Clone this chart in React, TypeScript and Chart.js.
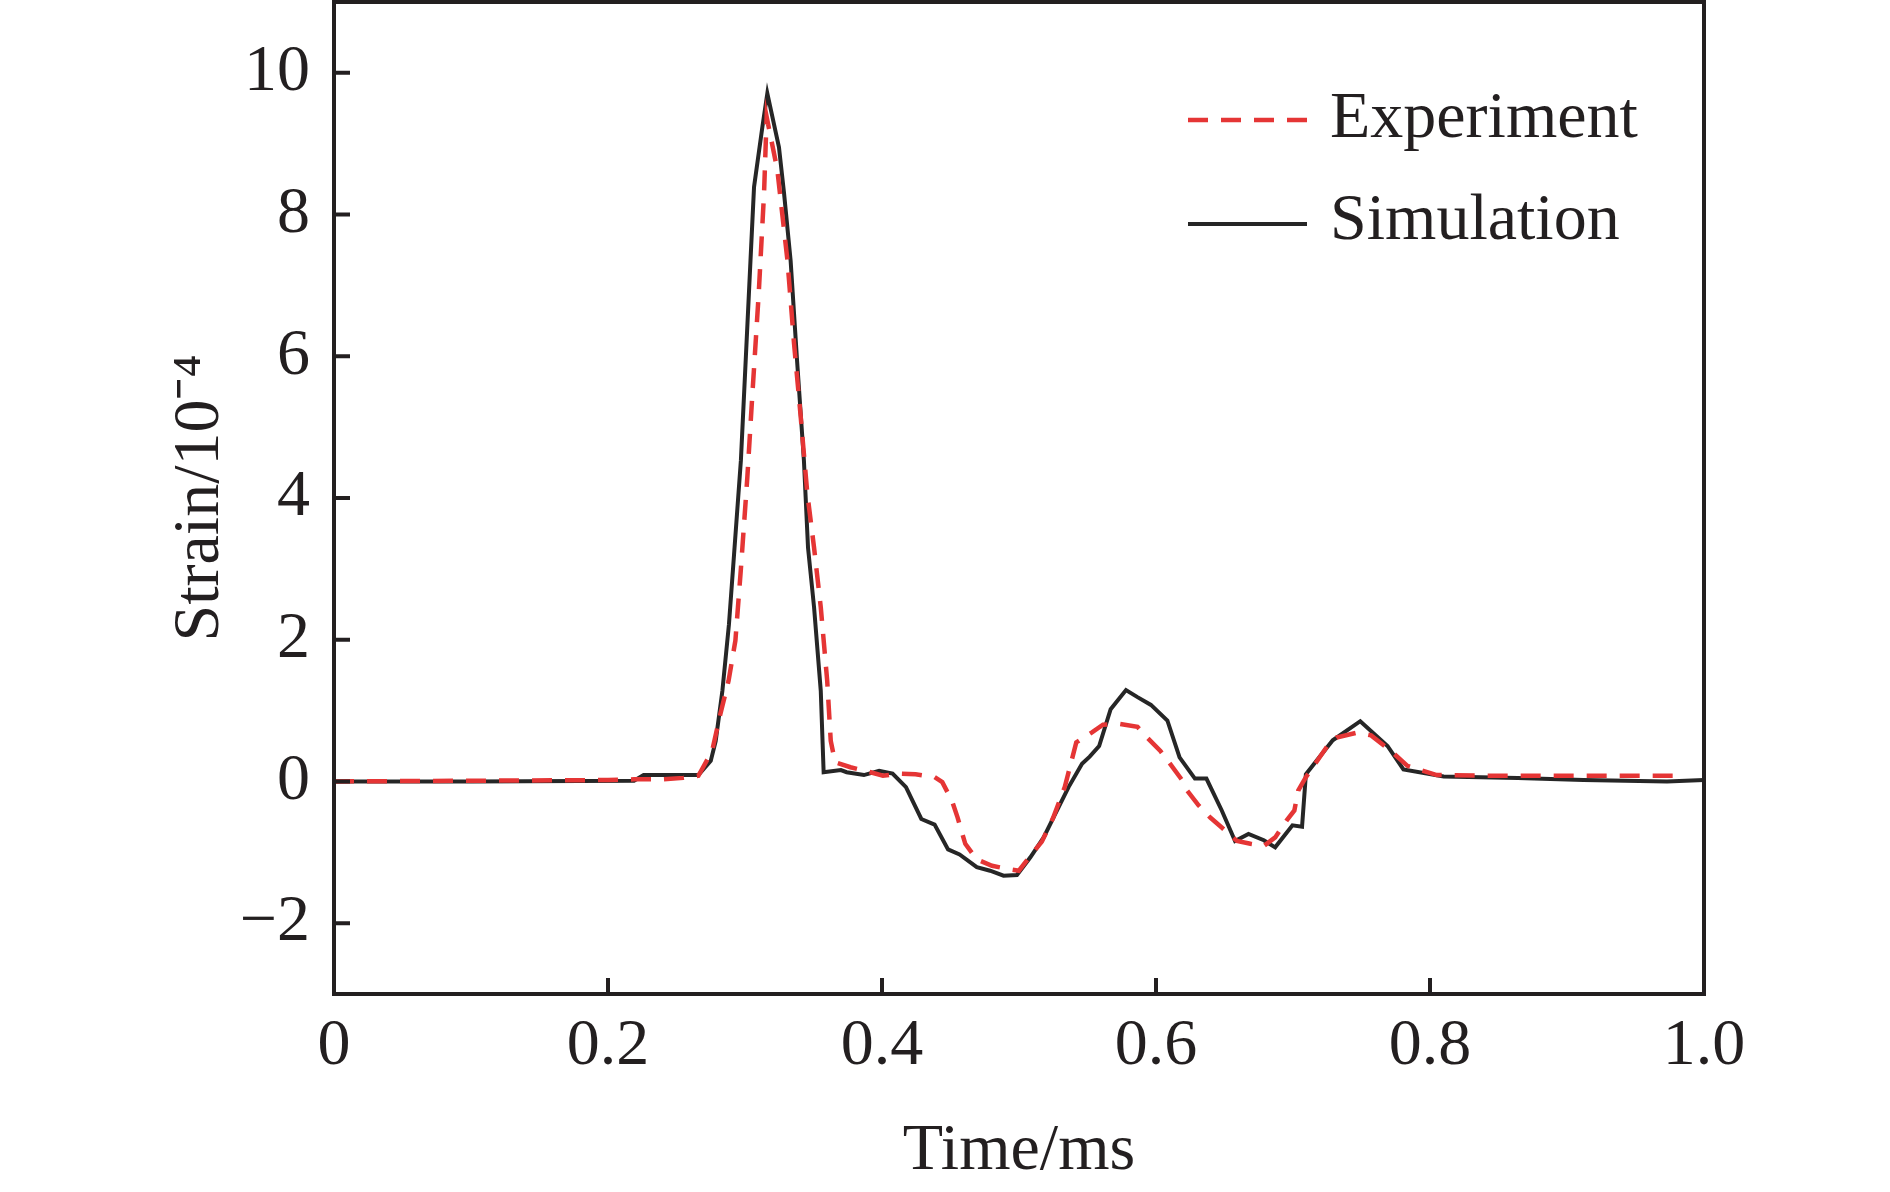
import React, { useEffect, useRef } from 'react';
import { Chart, registerables } from 'chart.js';

Chart.register(...registerables);

// ---- Data ----
const seriesNames = ['Experiment', 'Simulation'];

const expTime = [0, 0.10, 0.20, 0.219, 0.24, 0.255, 0.266, 0.276, 0.282, 0.288, 0.293, 0.297, 0.3017, 0.3054, 0.310, 0.3139, 0.3158, 0.3236, 0.331, 0.3358, 0.3406, 0.3455, 0.3504, 0.3553, 0.360, 0.3626, 0.3658, 0.377, 0.3896, 0.4007, 0.4119, 0.4245, 0.4384, 0.444, 0.451, 0.4552, 0.4594, 0.4608, 0.4692, 0.4803, 0.4929, 0.4999, 0.5083, 0.5167, 0.525, 0.5334, 0.5418, 0.553, 0.5613, 0.5739, 0.5865, 0.5935, 0.6032, 0.6102, 0.6186, 0.6228, 0.6312, 0.6396, 0.648, 0.6591, 0.6689, 0.6787, 0.687, 0.6954, 0.701, 0.7038, 0.7094, 0.7262, 0.7318, 0.747, 0.757, 0.7715, 0.7835, 0.805, 0.85, 0.90, 0.95, 0.98];
const expStrain = [0, 0.01, 0.02, 0.03, 0.03, 0.05, 0.08, 0.43, 0.95, 1.42, 1.99, 3.0, 4.29, 5.47, 6.88, 8.30, 9.38, 8.63, 7.35, 6.18, 5.16, 4.06, 3.3, 2.46, 1.42, 0.57, 0.27, 0.20, 0.14, 0.08, 0.11, 0.10, 0.06, -0.01, -0.27, -0.51, -0.79, -0.88, -1.10, -1.19, -1.24, -1.26, -1.05, -0.85, -0.51, -0.08, 0.55, 0.69, 0.80, 0.81, 0.77, 0.62, 0.43, 0.25, 0.03, -0.13, -0.34, -0.51, -0.65, -0.84, -0.88, -0.91, -0.79, -0.55, -0.41, -0.13, 0.06, 0.53, 0.62, 0.69, 0.65, 0.43, 0.22, 0.09, 0.08, 0.08, 0.08, 0.08];

const simTime = [0, 0.10, 0.219, 0.226, 0.266, 0.275, 0.2786, 0.2835, 0.2883, 0.292, 0.297, 0.3005, 0.304, 0.3066, 0.3127, 0.3163, 0.3248, 0.3285, 0.3333, 0.338, 0.343, 0.346, 0.3504, 0.3553, 0.3574, 0.370, 0.3742, 0.3868, 0.3979, 0.4077, 0.4175, 0.4287, 0.4384, 0.4482, 0.4566, 0.4692, 0.4789, 0.4887, 0.4985, 0.5083, 0.518, 0.5264, 0.5362, 0.546, 0.5516, 0.5585, 0.5669, 0.5781, 0.5865, 0.5963, 0.6083, 0.6172, 0.6284, 0.6368, 0.648, 0.6577, 0.6675, 0.6787, 0.687, 0.6996, 0.7066, 0.7094, 0.729, 0.7491, 0.769, 0.7806, 0.810, 0.864, 0.912, 0.973, 1.0];
const simStrain = [0, 0, 0.01, 0.09, 0.09, 0.29, 0.57, 1.28, 2.22, 3.2, 4.53, 5.94, 7.35, 8.39, 9.24, 9.71, 8.95, 8.30, 7.35, 5.94, 4.53, 3.3, 2.46, 1.28, 0.13, 0.16, 0.13, 0.09, 0.15, 0.11, -0.08, -0.53, -0.61, -0.96, -1.03, -1.21, -1.26, -1.33, -1.32, -1.07, -0.79, -0.46, -0.08, 0.25, 0.35, 0.50, 1.02, 1.29, 1.19, 1.08, 0.86, 0.34, 0.04, 0.04, -0.41, -0.84, -0.74, -0.83, -0.93, -0.62, -0.64, 0.10, 0.58, 0.85, 0.50, 0.17, 0.07, 0.05, 0.02, 0.00, 0.02];

const xTickValues = [0, 0.2, 0.4, 0.6, 0.8, 1.0];
const yTickValues = [-2, 0, 2, 4, 6, 8, 10];
const xRange = [0, 1];
const yRange = [-3, 11];
const xTitle = 'Time/ms';
const yTitle = 'Strain/10\u207B\u2074';

// ---- Styles ----
const FONT = "'Liberation Serif', 'Times New Roman', serif";
const INK = '#231f20';
const RED = '#e53535';
const BLACK = '#262626';
const RED_DASH = [20, 13];

const framePlugin = {
  id: 'frameTicks',
  afterDatasetsDraw(chart: any) {
    const { ctx, chartArea } = chart;
    const { left, right, top, bottom } = chartArea;
    const xs = chart.scales.x;
    const ys = chart.scales.y;
    ctx.save();
    ctx.strokeStyle = INK;
    ctx.lineWidth = 4;
    ctx.lineCap = 'butt';
    ctx.beginPath();
    ys.ticks.forEach((t: any) => {
      const py = ys.getPixelForValue(t.value);
      ctx.moveTo(left, py);
      ctx.lineTo(left + 16, py);
    });
    xs.ticks.forEach((t: any) => {
      const px = xs.getPixelForValue(t.value);
      ctx.moveTo(px, bottom);
      ctx.lineTo(px, bottom - 16);
    });
    ctx.stroke();
    ctx.strokeRect(left, top, right - left, bottom - top);
    ctx.restore();
  },
};

const legendPlugin = {
  id: 'customLegend',
  afterDraw(chart: any) {
    const { ctx, chartArea } = chart;
    const x0 = chartArea.right - 516;
    const lineLen = 119;
    const textX = chartArea.right - 374;
    const rows = [
      { lineY: chartArea.top + 118, textY: chartArea.top + 135 },
      { lineY: chartArea.top + 222, textY: chartArea.top + 237 },
    ];
    ctx.save();
    chart.data.datasets.forEach((ds: any, i: number) => {
      const r = rows[i];
      ctx.beginPath();
      ctx.strokeStyle = ds.borderColor;
      ctx.lineWidth = ds.borderWidth;
      ctx.setLineDash(ds.borderDash || []);
      ctx.moveTo(x0, r.lineY);
      ctx.lineTo(x0 + lineLen, r.lineY);
      ctx.stroke();
      ctx.setLineDash([]);
      ctx.fillStyle = INK;
      ctx.font = `66px ${FONT}`;
      ctx.textAlign = 'left';
      ctx.textBaseline = 'alphabetic';
      ctx.fillText(ds.label, textX, r.textY);
    });
    ctx.restore();
  },
};

export default function App() {
  const canvasRef = useRef<HTMLCanvasElement | null>(null);

  useEffect(() => {
    const canvas = canvasRef.current;
    if (!canvas) return;
    const expData = expTime.map((t, i) => ({ x: t, y: expStrain[i] }));
    const simData = simTime.map((t, i) => ({ x: t, y: simStrain[i] }));

    const chart = new Chart(canvas, {
      type: 'line',
      data: {
        datasets: [
          {
            label: seriesNames[0],
            data: expData,
            borderColor: RED,
            borderWidth: 4.5,
            borderDash: RED_DASH,
            pointRadius: 0,
            tension: 0,
            fill: false,
          },
          {
            label: seriesNames[1],
            data: simData,
            borderColor: BLACK,
            borderWidth: 4,
            pointRadius: 0,
            tension: 0,
            fill: false,
          },
        ],
      },
      options: {
        animation: false,
        responsive: false,
        devicePixelRatio: 1,
        layout: { padding: { left: 0, right: 186, top: 2, bottom: 0 } },
        plugins: {
          legend: { display: false },
          tooltip: { enabled: false },
          title: { display: false },
        },
        scales: {
          x: {
            type: 'linear',
            position: 'bottom',
            min: xRange[0],
            max: xRange[1],
            afterBuildTicks: (scale: any) => {
              scale.ticks = xTickValues.map((v) => ({ value: v }));
            },
            afterFit: (scale: any) => {
              scale.height = 198;
              scale.paddingLeft = 0;
              scale.paddingRight = 0;
            },
            grid: { display: false, drawTicks: false, tickLength: 0 },
            border: { display: false },
            ticks: {
              color: INK,
              padding: 20,
              maxRotation: 0,
              autoSkip: false,
              font: { family: FONT, size: 66, lineHeight: 1 },
              callback: (v: any) => (v === 0 ? '0' : Number(v).toFixed(1)),
            },
            title: {
              display: true,
              text: xTitle,
              color: INK,
              font: { family: FONT, size: 66, lineHeight: 1 },
              padding: { top: 0, bottom: 7 },
            },
          },
          y: {
            type: 'linear',
            position: 'left',
            min: yRange[0],
            max: yRange[1],
            afterBuildTicks: (scale: any) => {
              scale.ticks = yTickValues.map((v) => ({ value: v }));
            },
            afterFit: (scale: any) => {
              scale.width = 334;
              scale.paddingTop = 0;
              scale.paddingBottom = 0;
            },
            grid: { display: false, drawTicks: false, tickLength: 0 },
            border: { display: false },
            ticks: {
              color: INK,
              padding: 24,
              autoSkip: false,
              font: { family: FONT, size: 66, lineHeight: 1 },
              callback: (v: any) => (v < 0 ? '\u2212' + Math.abs(v) : String(v)),
            },
            title: {
              display: true,
              text: yTitle,
              color: INK,
              font: { family: FONT, size: 66, lineHeight: 1 },
              padding: { top: 168, bottom: 0 },
            },
          },
        },
      },
      plugins: [framePlugin, legendPlugin],
    });

    return () => {
      chart.destroy();
    };
  }, []);

  return (
    <div style={{ position: 'absolute', left: 0, top: 0, width: 1890, height: 1192, background: '#fff' }}>
      <canvas ref={canvasRef} width={1890} height={1192} style={{ display: 'block', width: 1890, height: 1192 }} />
    </div>
  );
}
